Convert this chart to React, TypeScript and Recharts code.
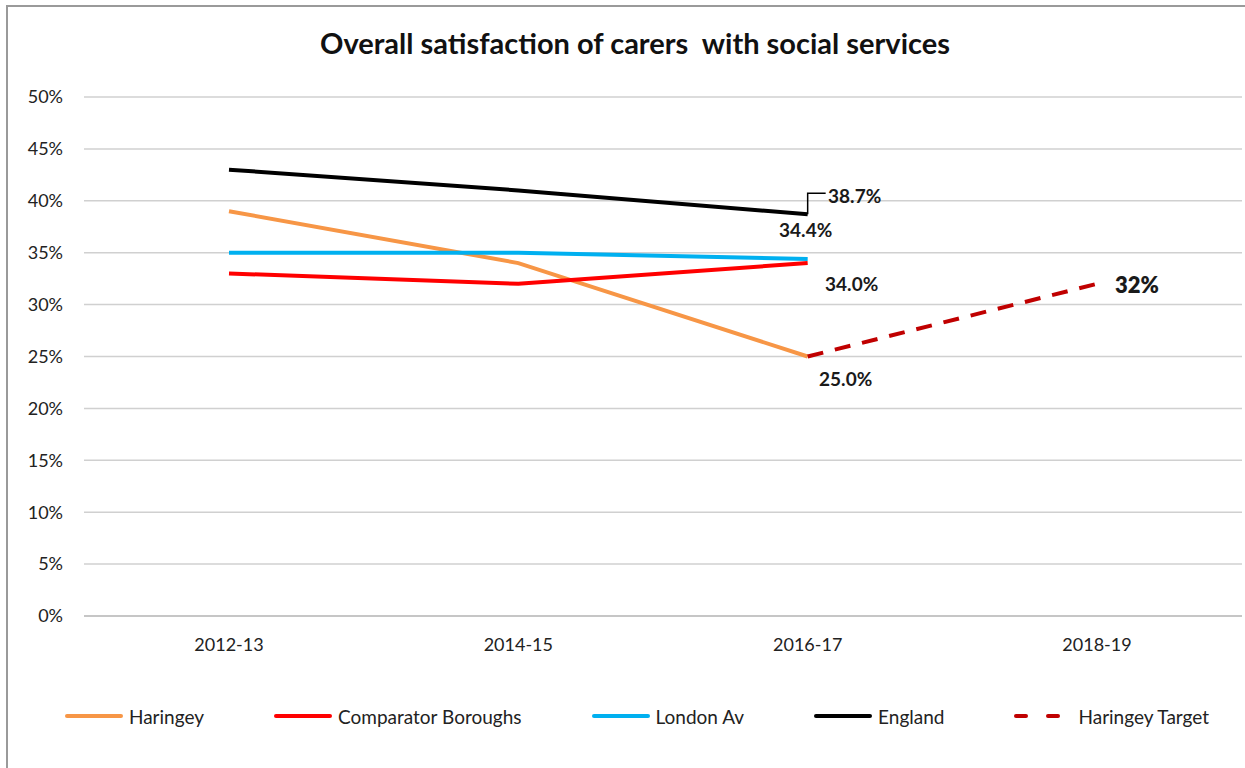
import { LineChart, Line, XAxis, YAxis, CartesianGrid, Legend, LabelList } from 'recharts'

const years = ['2012-13', '2014-15', '2016-17', '2018-19']
const haringey = [39, 34, 25, null]
const comparator = [33, 32, 34, null]
const londonAv = [35, 35, 34.4, null]
const england = [43, 41, 38.7, null]
const haringeyTarget = [null, null, 25, 32]
const yTicks = [0, 5, 10, 15, 20, 25, 30, 35, 40, 45, 50]

const data = years.map((year, i) => ({
  year,
  haringey: haringey[i],
  comparator: comparator[i],
  londonAv: londonAv[i],
  england: england[i],
  target: haringeyTarget[i],
}))

const FONT = 'Lato, "Open Sans", sans-serif'

const legendItems = [
  { name: 'Haringey', color: '#F79646', dashed: false },
  { name: 'Comparator Boroughs', color: '#FF0000', dashed: false },
  { name: 'London Av', color: '#00B0F0', dashed: false },
  { name: 'England', color: '#000000', dashed: false },
  { name: 'Haringey Target', color: '#C00000', dashed: true },
]

function LegendContent() {
  return (
    <div style={{ display: 'flex', justifyContent: 'center', gap: 70, height: 24, alignItems: 'center', paddingLeft: 32 }}>
      {legendItems.map((item) => (
        <div key={item.name} style={{ display: 'flex', alignItems: 'center', gap: 6 }}>
          <svg width={58} height={6}>
            <line
              x1={2}
              y1={3}
              x2={56}
              y2={3}
              stroke={item.color}
              strokeWidth={4}
              strokeLinecap="round"
              strokeDasharray={item.dashed ? '10 22' : undefined}
            />
          </svg>
          <span style={{ fontFamily: FONT, fontSize: 19, color: '#222' }}>{item.name}</span>
        </div>
      ))}
    </div>
  )
}

// value labels at one point only, offset from the point
function pointLabel(dx: number, dy: number, text: string, opts: { leader?: boolean; big?: boolean } = {}) {
  return (props: any) => {
    const { x, y, index } = props
    if (x == null || y == null) return null
    const target = opts.big ? 3 : 2
    if (index !== target) return null
    return (
      <g>
        {opts.leader && (
          <polyline
            points={`${x},${y} ${x},${y - 21} ${x + 18},${y - 21}`}
            fill="none"
            stroke="#000"
            strokeWidth={1.5}
          />
        )}
        <text
          x={x + dx}
          y={y + dy}
          textAnchor="middle"
          dominantBaseline="central"
          fontFamily={FONT}
          fontSize={opts.big ? 22 : 19}
          fontWeight={opts.big ? 800 : 700}
          fill="#1a1a1a"
        >
          {text}
        </text>
      </g>
    )
  }
}

export default function App() {
  return (
    <div style={{ position: 'absolute', left: 0, top: 0, width: 1245, height: 768, background: '#fff', overflow: 'hidden' }}>
      <div
        style={{
          position: 'absolute',
          left: 6,
          top: 5,
          width: 1300,
          height: 800,
          borderLeft: '2px solid #9a9a9a',
          borderTop: '2px solid #9a9a9a',
        }}
      />
      <div
        style={{
          position: 'absolute',
          left: 0,
          top: 25,
          width: 1270,
          textAlign: 'center',
          fontFamily: FONT,
          fontSize: 29,
          fontWeight: 700,
          color: '#111',
          whiteSpace: 'pre',
        }}
      >
        {'Overall satisfaction of carers  with social services'}
      </div>
      <div style={{ position: 'absolute', left: 0, top: 0 }}>
        <LineChart width={1245} height={768} data={data} margin={{ top: 97, right: 3, bottom: 40, left: 0 }}>
          <CartesianGrid vertical={false} stroke="#D0D0D0" strokeWidth={1.5} />
          <XAxis
            dataKey="year"
            padding={{ left: 145, right: 145 }}
            tickLine={false}
            axisLine={{ stroke: '#BFBFBF', strokeWidth: 1.5 }}
            tickSize={0}
            tickMargin={22}
            height={88}
            tick={{ fill: '#222', fontSize: 18, fontFamily: FONT }}
          />
          <YAxis
            width={84}
            domain={[0, 50]}
            ticks={yTicks}
            tickFormatter={(v) => `${v}%`}
            axisLine={false}
            tickLine={false}
            tickSize={0}
            tickMargin={21}
            tick={{ fill: '#222', fontSize: 18, fontFamily: FONT }}
          />
          <Legend verticalAlign="bottom" content={<LegendContent />} />
          <Line dataKey="haringey" stroke="#F79646" strokeWidth={4} dot={false} isAnimationActive={false}>
            <LabelList content={pointLabel(38, 22, '25.0%')} />
          </Line>
          <Line dataKey="comparator" stroke="#FF0000" strokeWidth={4} dot={false} isAnimationActive={false}>
            <LabelList content={pointLabel(44, 20, '34.0%')} />
          </Line>
          <Line dataKey="londonAv" stroke="#00B0F0" strokeWidth={4} dot={false} isAnimationActive={false}>
            <LabelList content={pointLabel(-2, -29, '34.4%')} />
          </Line>
          <Line dataKey="england" stroke="#000000" strokeWidth={4} dot={false} isAnimationActive={false}>
            <LabelList content={pointLabel(47, -19, '38.7%', { leader: true })} />
          </Line>
          <Line
            dataKey="target"
            stroke="#C00000"
            strokeWidth={4}
            strokeDasharray="16 12"
            dot={false}
            isAnimationActive={false}
          >
            <LabelList content={pointLabel(40, 1, '32%', { big: true })} />
          </Line>
        </LineChart>
      </div>
    </div>
  )
}
